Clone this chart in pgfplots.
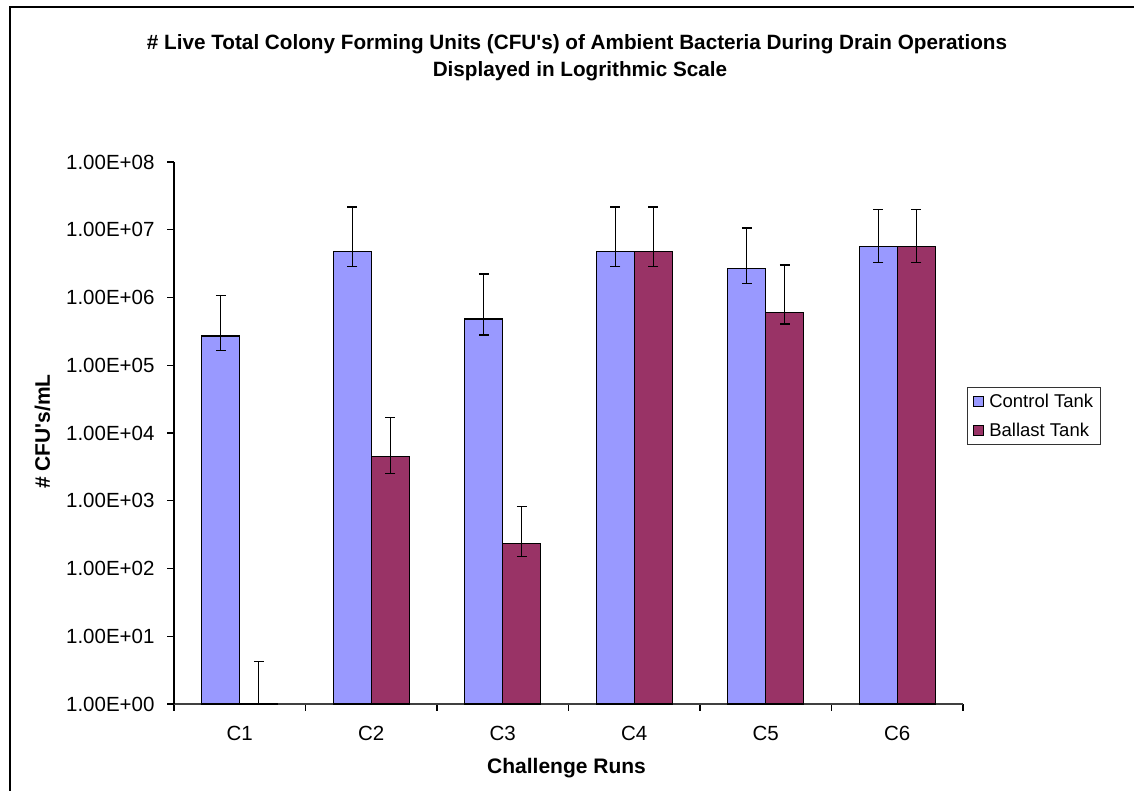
\documentclass[border=0pt]{standalone}
\usepackage{fontspec}
\setmainfont{Liberation Sans}
\usepackage{pgfplots}
\pgfplotsset{compat=1.18}
\definecolor{ctrl}{HTML}{9999FF}
\definecolor{ball}{HTML}{993366}
\begin{document}
\begin{tikzpicture}[x=1pt,y=1pt]
\useasboundingbox (0,0) rectangle (1134,790);
\fill[white] (0,0) rectangle (1134,790);
\draw[line width=2pt, black] (10,-10) -- (10,783) -- (1150,783);
\node[anchor=base, font=\fontsize{20.7}{25}\selectfont\bfseries] at (577,740) {\# Live Total Colony Forming Units (CFU\textquotesingle s) of Ambient Bacteria During Drain Operations};
\node[anchor=base, font=\fontsize{20.7}{25}\selectfont\bfseries] at (580,713.3) {Displayed in Logrithmic Scale};
\node[anchor=base, font=\fontsize{21}{25}\selectfont\bfseries] at (566.5,16.7) {Challenge Runs};
\node[rotate=90, font=\fontsize{21}{25}\selectfont\bfseries] at (42.5,358.5) {\# CFU\textquotesingle s/mL};
\begin{axis}[
  at={(174pt,86pt)}, anchor=south west,
  scale only axis, width=789pt, height=542pt,
  ymode=log, ymin=1, ymax=1e8,
  xmin=0.5, xmax=6.5,
  axis x line*=bottom, axis y line*=left,
  x axis line style={black!75, line width=1.2pt},
  y axis line style={black, line width=1.2pt},
  ybar=0pt, bar width=38pt,
  ytick={1,10,100,1000,10000,100000,1000000,10000000,100000000},
  yticklabels={1.00E+00,1.00E+01,1.00E+02,1.00E+03,1.00E+04,1.00E+05,1.00E+06,1.00E+07,1.00E+08},
  yminorticks=false,
  xtick={0.5,1.5,...,6.5}, xticklabels={},
  extra x ticks={1,2,3,4,5,6}, extra x tick labels={C1,C2,C3,C4,C5,C6},
  extra x tick style={tick style={draw=none}},
  tick align=outside, major tick length=7pt,
  tick style={black, line width=1.2pt},
  ticklabel style={font=\fontsize{20.5}{24}\selectfont},
  yticklabel style={xshift=-9pt},
  xticklabel style={yshift=-12pt},
  legend style={at={(1.00507,0.5849)}, anchor=north west, font=\fontsize{18.5}{22}\selectfont,
    draw=black!80, line width=1pt, inner xsep=5pt, inner ysep=4.5pt, row sep=10pt,
    /tikz/every odd column/.append style={column sep=4pt}},
  legend cell align=left,
  error bars/y dir=both, error bars/y explicit,
  error bars/error bar style={black, line width=1.3pt},
  error bars/error mark options={rotate=90, mark size=5pt, line width=1.3pt, black},
]
\addplot[fill=ctrl, draw=black, line width=1.2pt,
  legend image code/.code={\draw[fill=ctrl,draw=black,line width=0.8pt] (0pt,-5pt) rectangle (10pt,5pt);}]
  coordinates {
  (1,2.7e5) += (0,8.0e5) -= (0,1.06e5)
  (2,4.8e6) += (0,1.68e7) -= (0,1.9e6)
  (3,4.8e5) += (0,1.74e6) -= (0,2.0e5)
  (4,4.74e6) += (0,1.686e7) -= (0,1.84e6)
  (5,2.66e6) += (0,7.94e6) -= (0,1.04e6)
  (6,5.6e6) += (0,1.42e7) -= (0,2.3e6)
  };
\addlegendentry{Control Tank}
\addplot[fill=ball, draw=black, line width=1.2pt,
  legend image code/.code={\draw[fill=ball,draw=black,line width=0.8pt] (0pt,-5pt) rectangle (10pt,5pt);}]
  coordinates {
  (1,1) += (0,3.2) -= (0,0)
  (2,4470) += (0,12330) -= (0,1930)
  (3,236) += (0,592) -= (0,85)
  (4,4.74e6) += (0,1.686e7) -= (0,1.84e6)
  (5,5.97e5) += (0,2.423e6) -= (0,1.9e5)
  (6,5.6e6) += (0,1.42e7) -= (0,2.3e6)
  };
\addlegendentry{Ballast Tank}
\end{axis}
\end{tikzpicture}
\end{document}
